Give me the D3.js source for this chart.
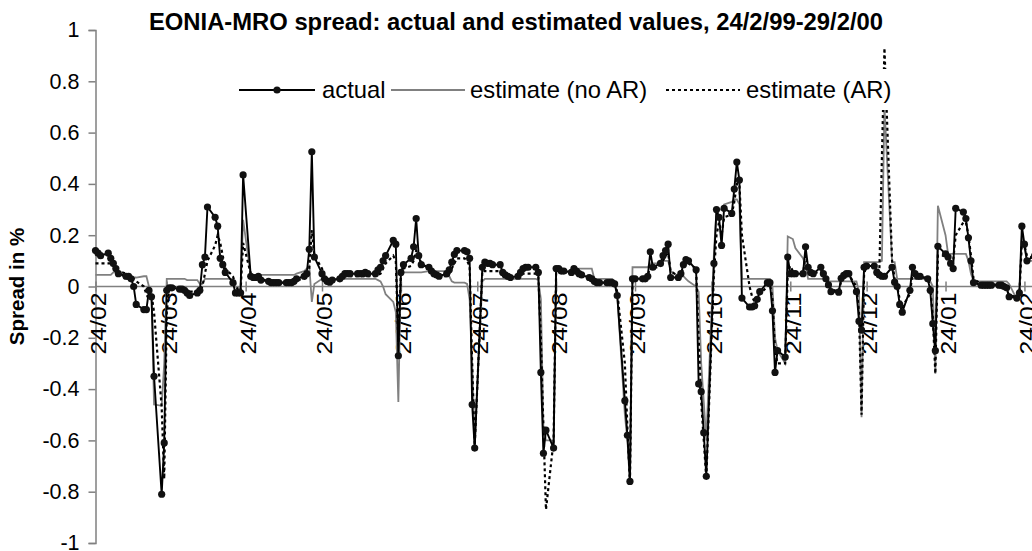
<!DOCTYPE html>
<html>
<head>
<meta charset="utf-8">
<title>EONIA-MRO spread</title>
<script src="https://d3js.org/d3.v7.min.js"></script>
<style>
  body { margin: 0; background: #fff; }
  text { font-family: Arial, "Liberation Sans", sans-serif; }
</style>
</head>
<body>
<script>
// one row per week (Mon..Fri), first row starts Wed 24/02/99, last ends Tue 29/02/00
var actual = [
  [.14, .13, .12],
  [.13, .11, .09, .07, .05],
  [.04, .04, .03, .00, -.07],
  [-.09, -.09, -.015, -.04, -.35],
  [-.81, -.61, -.015, -.005, -.005],
  [-.01, -.01, -.015, -.025, -.035],
  [-.025, -.015, .085, .115, .31],
  [.27, .235, .11, .085, .055],
  [.015, -.025, -.025, -.025, .435],
  [.04, .035, .035, .04, .025],
  [.02, .015, .015, .015, .015],
  [.015, .015, .015, .02, .03],
  [.04, .05, .145, .525, .115],
  [.05, .03, .02, .017, .025],
  [.03, .04, .05, .05, .05],
  [.05, .05, .05, .055, .05],
  [.05, .065, .075, .1, .12],
  [.18, .165, -.27, .055, .085],
  [.11, .155, .265, .12, .085],
  [.075, .06, .05, .045, .04],
  [.05, .065, .095, .125, .14],
  [.14, .135, .11, -.46, -.63],
  [.075, .095, .09, .09, .085],
  [.085, .055, .045, .04, .035],
  [.04, .055, .07, .075, .075],
  [.075, .055, -.335, -.65, -.56],
  [-.63, .07, .07, .06, .06],
  [.055, .07, .06, .05, .045],
  [.035, .03, .02, .015, .015],
  [.015, .015, .015, .01, -.035],
  [-.445, -.58, -.76, .03, .03],
  [.03, .03, .04, .135, .075],
  [.09, .12, .14, .165, .035],
  [.035, .05, .085, .105, .1],
  [.065, -.38, -.41, -.57, -.74],
  [.09, .30, .27, .16, .305],
  [.285, .38, .485, .415, -.045],
  [-.08, -.08, -.075, -.05, -.02],
  [.015, .015, -.095, -.335, -.25],
  [-.275, .115, .05, .05, .05],
  [.05, .155, .075, .055, .05],
  [.075, .05, .03, .006, -.02],
  [-.022, .032, .043, .05, .05],
  [-.02, -.135, -.17, .075, .08],
  [.08, .055, .045, .04, .04],
  [.075, .017, .0, -.07, -.1],
  [-.015, .075, .05, .04, .04],
  [.03, -.015, -.145, -.25, .157],
  [.127, .115, .09, .07, .305],
  [.29, .265, .19, .1, .015],
  [.005, .005, .005, .005, .005],
  [.005, .005, .0, -.005, -.04],
  [-.045, -.025, .235, .165, .1],
  [.12, .1]
];

var estNoAR = [
  [.045, .045, .045],
  [.045, .045, .055, .055, .055],
  [.03, .03, .03, .035, .035],
  [.04, .04, .0, -.02, -.46],
  [-.465, -.3, .03, .03, .03],
  [.03, .03, .03, .025, .025],
  [.025, .01, .01, .03, .03],
  [.03, .03, .03, .03, .03],
  [.03, .0, -.005, -.01, .26],
  [.045, .045, .045, .045, .045],
  [.045, .045, .045, .045, .045],
  [.045, .045, .045, .045, .05],
  [.06, .07, .08, -.06, .01],
  [.03, .03, .03, .03, .03],
  [.03, .03, .03, .03, .03],
  [.03, .03, .03, .03, .03],
  [.03, .025, .02, .0, -.03],
  [-.06, -.1, -.45, .055, .055],
  [.055, .055, .055, .055, .055],
  [.06, .06, .06, .06, .06],
  [.06, .04, .02, .015, .015],
  [.015, .01, -.05, -.3, -.6],
  [.02, .03, .03, .03, .03],
  [.03, .03, .03, .03, .03],
  [.03, .03, .03, .03, .03],
  [.03, .025, -.05, -.55, -.6],
  [-.6, .06, .06, .06, .06],
  [.06, .06, .06, .07, .07],
  [.07, .07, .03, .03, .03],
  [.03, .03, .03, .02, -.03],
  [-.5, -.6, -.75, .075, .075],
  [.075, .075, .075, .09, .09],
  [.09, .1, .1, .1, .06],
  [.04, .04, .04, .03, .02],
  [.0, -.02, -.3, -.45, -.6],
  [.13, .3, .3, .3, .32],
  [.33, .34, .34, .32, .03],
  [.03, .03, .03, .03, .03],
  [.03, .03, .0, -.2, -.25],
  [-.3, .195, .19, .185, .15],
  [.11, .08, .03, .03, .03],
  [.03, .03, .03, .02, .02],
  [.02, .02, .02, .02, .02],
  [.02, -.02, -.51, .095, .095],
  [.095, .095, .095, .1, .7],
  [.095, .095, .03, .03, .03],
  [.03, .03, .03, .03, .03],
  [.03, .02, .0, -.34, .315],
  [.2, .127, .127, .127, .127],
  [.127, .127, .1, .05, .02],
  [.02, .02, .02, .02, .02],
  [.02, .02, .02, .02, .01],
  [-.05, -.05, .2, .15, .1],
  [.1, .1]
];

var estAR = [
  [.09, .09, .09],
  [.09, .09, .08, .07, .06],
  [.05, .04, .04, .03, .02],
  [.0, -.03, -.05, -.03, -.1],
  [-.47, -.75, -.1, -.01, .0],
  [-.005, -.01, -.01, -.015, -.02],
  [-.02, -.015, .0, .05, .1],
  [.16, .2, .17, .12, .07],
  [.04, .01, -.015, -.02, .17],
  [.05, .03, .03, .03, .03],
  [.02, .015, .015, .015, .015],
  [.015, .015, .015, .02, .025],
  [.03, .04, .07, .22, .12],
  [.07, .04, .03, .03, .03],
  [.03, .035, .04, .04, .04],
  [.04, .04, .04, .04, .04],
  [.04, .045, .05, .07, .09],
  [.12, .1, -.22, .05, .07],
  [.08, .1, .14, .12, .09],
  [.07, .06, .05, .045, .04],
  [.04, .05, .07, .09, .11],
  [.11, .1, .08, -.3, -.62],
  [.06, .06, .06, .06, .06],
  [.06, .05, .04, .035, .035],
  [.035, .045, .05, .05, .05],
  [.05, .04, -.2, -.55, -.87],
  [-.6, .06, .06, .055, .055],
  [.05, .055, .05, .045, .04],
  [.035, .03, .02, .015, .015],
  [.015, .015, .015, .01, -.02],
  [-.3, -.55, -.77, .03, .03],
  [.03, .03, .035, .09, .07],
  [.08, .1, .12, .13, .06],
  [.04, .05, .07, .09, .09],
  [.07, -.2, -.45, -.6, -.75],
  [.05, .2, .25, .2, .27],
  [.28, .33, .4, .4, .2],
  [.0, -.04, -.06, -.05, -.03],
  [.0, .01, -.05, -.25, -.3],
  [-.3, .06, .08, .06, .05],
  [.05, .12, .08, .06, .05],
  [.06, .05, .035, .01, -.01],
  [-.02, .02, .035, .045, .045],
  [.0, -.1, -.5, .05, .08],
  [.08, .07, .06, .5, .93],
  [.1, .03, .0, -.05, -.08],
  [-.03, .05, .045, .04, .04],
  [.03, .0, -.12, -.34, .12],
  [.12, .11, .09, .1, .2],
  [.25, .25, .2, .12, .03],
  [.01, .01, .01, .01, .01],
  [.005, .005, .0, -.01, -.035],
  [-.04, -.03, .17, .16, .12],
  [.11, .1]
];

var yTicks = [1, 0.8, 0.6, 0.4, 0.2, 0, -0.2, -0.4, -0.6, -0.8, -1];
var seriesNames = ["actual", "estimate (no AR)", "estimate (AR)"];
var titleText = "EONIA-MRO spread: actual and estimated values, 24/2/99-29/2/00";

var width = 1032, height = 551;
var plotLeft = 95.5, plotTop = 30, plotBottom = 543;

// business days from 24/02/99 to 29/02/00
var startDate = new Date(1999, 1, 24), endDate = new Date(2000, 1, 29);
var days = d3.timeDays(startDate, d3.timeDay.offset(endDate, 1))
  .filter(function(d) { return d.getDay() !== 0 && d.getDay() !== 6; });

function toPoints(weeks) {
  var flat = [].concat.apply([], weeks);
  return flat.map(function(v, i) { return { date: days[i], value: v }; });
}
var actualPts = toPoints(actual);
var noARPts = toPoints(estNoAR);
var arPts = toPoints(estAR);

var x = d3.scaleTime()
  .domain([startDate, endDate])
  .range([plotLeft, plotLeft + 2.545 * 370]);

var y = d3.scaleLinear()
  .domain([-1, 1])
  .range([plotBottom, plotTop]);

var svg = d3.select("body").append("svg")
  .attr("width", width)
  .attr("height", height);

// title
svg.append("text")
  .attr("x", 516).attr("y", 30)
  .attr("text-anchor", "middle")
  .attr("font-size", "23.8px")
  .attr("font-weight", "bold")
  .text(titleText);

// y axis title
svg.append("text")
  .attr("transform", "translate(24," + y(0) + ") rotate(-90)")
  .attr("text-anchor", "middle")
  .attr("font-size", "20.5px")
  .attr("font-weight", "bold")
  .text("Spread in %");

// y axis
var yAxis = svg.append("g")
  .attr("transform", "translate(" + plotLeft + ",0)")
  .call(d3.axisLeft(y).tickValues(yTicks).tickSize(7).tickPadding(9)
    .tickFormat(function(d) { return d === 0 ? "0" : String(d); }));
yAxis.selectAll("path, line").attr("stroke", "#808080").attr("stroke-width", 1.5);
yAxis.selectAll("text").attr("font-size", "21.5px").attr("fill", "#000")
  .attr("font-family", "Arial, 'Liberation Sans', sans-serif");

// x axis on zero line
var monthTicks = d3.timeMonths(new Date(1999, 1, 1), new Date(2000, 2, 1))
  .map(function(m) { return new Date(m.getFullYear(), m.getMonth(), 24); });

var xAxis = svg.append("g")
  .attr("transform", "translate(0," + y(0) + ")")
  .call(d3.axisBottom(x).tickValues(monthTicks).tickSize(5).tickSizeOuter(0)
    .tickFormat(d3.timeFormat("%d/%m")));
xAxis.select(".domain").attr("stroke", "#808080").attr("stroke-width", 1.5)
  .attr("d", "M" + plotLeft + ",0H" + width);
xAxis.selectAll(".tick line").attr("stroke", "#808080").attr("stroke-width", 1.5)
  .attr("y1", -5).attr("y2", 5);
xAxis.selectAll(".tick text")
  .attr("font-size", "22.5px").attr("fill", "#000")
  .attr("font-family", "Arial, 'Liberation Sans', sans-serif")
  .attr("text-anchor", "end")
  .attr("textLength", 62).attr("lengthAdjust", "spacingAndGlyphs")
  .attr("transform", "rotate(-90)")
  .attr("x", -6).attr("y", 2).attr("dy", "0.35em");

var line = d3.line()
  .x(function(d) { return x(d.date); })
  .y(function(d) { return y(d.value); });

svg.append("path").datum(noARPts)
  .attr("d", line).attr("fill", "none")
  .attr("stroke", "#808080").attr("stroke-width", 1.8);

svg.append("path").datum(arPts)
  .attr("d", line).attr("fill", "none")
  .attr("stroke", "#000").attr("stroke-width", 2.2)
  .attr("stroke-dasharray", "3,3");

svg.append("path").datum(actualPts)
  .attr("d", line).attr("fill", "none")
  .attr("stroke", "#000").attr("stroke-width", 1.9);

svg.append("g").selectAll("circle")
  .data(actualPts)
  .enter().append("circle")
  .attr("cx", function(d) { return x(d.date); })
  .attr("cy", function(d) { return y(d.value); })
  .attr("r", 3.6)
  .attr("fill", "#111");

// legend (white box, no border, sits over the lines)
var legend = svg.append("g").attr("transform", "translate(0,90)");
legend.append("rect")
  .attr("x", 232).attr("y", -21).attr("width", 664).attr("height", 41)
  .attr("fill", "#fff");
var legendItems = [
  { x1: 239, x2: 315, tx: 322, stroke: "#000", dash: null, dot: true },
  { x1: 391, x2: 465, tx: 470, stroke: "#808080", dash: null, dot: false },
  { x1: 666, x2: 740, tx: 746, stroke: "#000", dash: "3,3", dot: false }
];
legendItems.forEach(function(it, i) {
  legend.append("line")
    .attr("x1", it.x1).attr("x2", it.x2).attr("y1", 0).attr("y2", 0)
    .attr("stroke", it.stroke)
    .attr("stroke-width", it.dash ? 2.2 : 1.8)
    .attr("stroke-dasharray", it.dash);
  if (it.dot) {
    legend.append("circle").attr("cx", (it.x1 + it.x2) / 2).attr("cy", 0)
      .attr("r", 3.6).attr("fill", "#111");
  }
  legend.append("text")
    .attr("x", it.tx).attr("y", 0).attr("dy", "0.35em")
    .attr("font-size", "23.8px")
    .text(seriesNames[i]);
});
</script>
</body>
</html>
